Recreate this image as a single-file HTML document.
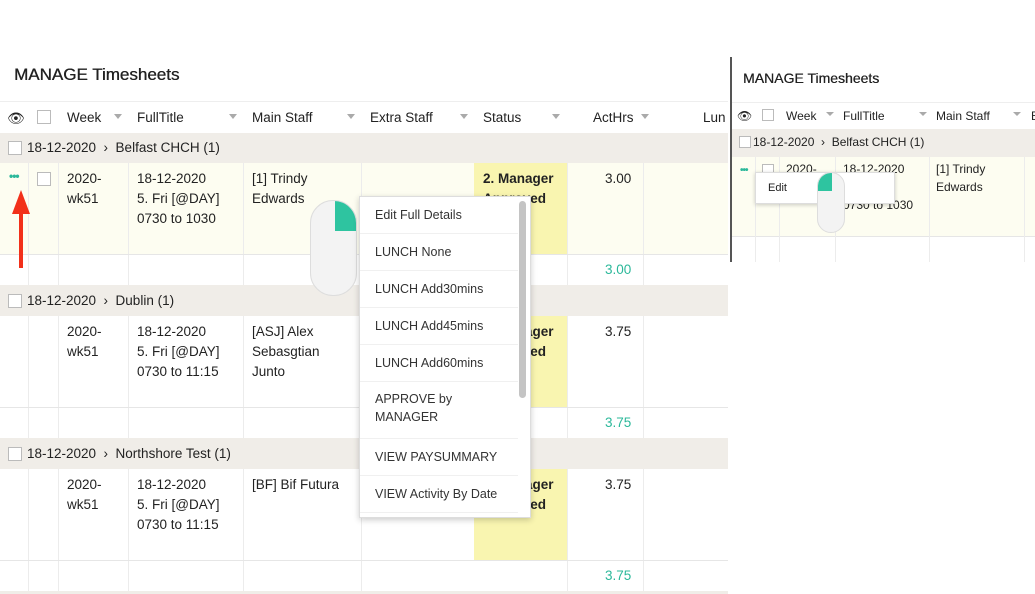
<!DOCTYPE html>
<html><head><meta charset="utf-8"><style>
body{margin:0;width:1035px;height:594px;overflow:hidden;background:#fff;font-family:"Liberation Sans",sans-serif;color:#222;position:relative}
div{position:absolute;box-sizing:border-box}
.t{font-size:13.5px;line-height:20px;white-space:nowrap}
.vl{width:1px;background:#ececec}
.hl{height:1px;background:#e6e6e6}
.cb{width:14px;height:14px;border:1px solid #bbb;background:#fff}
.arr{width:0;height:0;border-left:4px solid transparent;border-right:4px solid transparent;border-top:5px solid #aaa}
.grp{background:#f0ede8}
.mi{left:0;width:158px;height:37px;border-bottom:1px solid #f0f0f0;padding-left:15px;font-size:12.5px;line-height:18px;color:#333}
.ttl{font-size:17px;text-shadow:0.4px 0 0 #222}
</style></head><body>
<div class="t ttl" style="left:14px;top:65px;">MANAGE Timesheets</div>
<div class="hl" style="left:0;top:101px;width:728px;background:#eee"></div>
<!-- header -->
<div class="t" style="left:7px;top:108px;font-size:14px">👁</div>
<div class="cb" style="left:37px;top:110px"></div>
<div class="t" style="left:67px;top:108px">Week</div><div class="arr" style="left:114px;top:114px"></div>
<div class="t" style="left:137px;top:108px">FullTitle</div><div class="arr" style="left:229px;top:114px"></div>
<div class="t" style="left:252px;top:108px">Main Staff</div><div class="arr" style="left:347px;top:114px"></div>
<div class="t" style="left:370px;top:108px">Extra Staff</div><div class="arr" style="left:460px;top:114px"></div>
<div class="t" style="left:483px;top:108px">Status</div><div class="arr" style="left:552px;top:114px"></div>
<div class="t" style="left:593px;top:108px">ActHrs</div><div class="arr" style="left:641px;top:114px"></div>
<div class="t" style="left:703px;top:108px">Lun</div>
<!-- groups -->
<div class="grp" style="left:0;top:133px;width:728px;height:30px"></div>
<div class="grp" style="left:0;top:285px;width:728px;height:31px"></div>
<div class="grp" style="left:0;top:438px;width:728px;height:31px"></div>
<div class="grp" style="left:0;top:591px;width:728px;height:3px"></div>
<div style="left:0;top:163px;width:728px;height:91px;background:#fdfdf1"></div>
<div style="left:474px;top:163px;width:93px;height:91px;background:#f9f5b0"></div>
<div style="left:474px;top:316px;width:93px;height:91px;background:#f9f5b0"></div>
<div style="left:474px;top:469px;width:93px;height:91px;background:#f9f5b0"></div>
<!-- vertical lines in data rows -->
<div class="vl" style="left:28px;top:163px;height:122px"></div><div class="vl" style="left:58px;top:163px;height:122px"></div><div class="vl" style="left:128px;top:163px;height:122px"></div><div class="vl" style="left:243px;top:163px;height:122px"></div><div class="vl" style="left:361px;top:163px;height:122px"></div><div class="vl" style="left:567px;top:163px;height:122px"></div><div class="vl" style="left:643px;top:163px;height:122px"></div>
<div class="vl" style="left:28px;top:316px;height:122px"></div><div class="vl" style="left:58px;top:316px;height:122px"></div><div class="vl" style="left:128px;top:316px;height:122px"></div><div class="vl" style="left:243px;top:316px;height:122px"></div><div class="vl" style="left:361px;top:316px;height:122px"></div><div class="vl" style="left:567px;top:316px;height:122px"></div><div class="vl" style="left:643px;top:316px;height:122px"></div>
<div class="vl" style="left:28px;top:469px;height:122px"></div><div class="vl" style="left:58px;top:469px;height:122px"></div><div class="vl" style="left:128px;top:469px;height:122px"></div><div class="vl" style="left:243px;top:469px;height:122px"></div><div class="vl" style="left:361px;top:469px;height:122px"></div><div class="vl" style="left:567px;top:469px;height:122px"></div><div class="vl" style="left:643px;top:469px;height:122px"></div>
<div class="hl" style="left:0;top:254px;width:728px"></div>
<div class="hl" style="left:0;top:407px;width:728px"></div>
<div class="hl" style="left:0;top:560px;width:728px"></div>
<!-- group labels -->
<div class="cb" style="left:8px;top:141px"></div><div class="t" style="left:27px;top:138px">18-12-2020 &nbsp;›&nbsp; Belfast CHCH (1)</div>
<div class="cb" style="left:8px;top:294px"></div><div class="t" style="left:27px;top:291px">18-12-2020 &nbsp;›&nbsp; Dublin (1)</div>
<div class="cb" style="left:8px;top:447px"></div><div class="t" style="left:27px;top:444px">18-12-2020 &nbsp;›&nbsp; Northshore Test (1)</div>
<!-- row 1 -->
<div class="t" style="left:9px;top:166px;color:#2bb89a;font-weight:bold;font-size:12px;letter-spacing:-1px">•••</div>
<div style="left:12px;top:190px;width:0;height:0;border-left:9px solid transparent;border-right:9px solid transparent;border-bottom:24px solid #f2301a"></div>
<div style="left:19px;top:212px;width:4px;height:56px;background:#f2301a"></div>
<div class="cb" style="left:37px;top:172px"></div>
<div class="t" style="left:67px;top:169px">2020-<br>wk51</div>
<div class="t" style="left:137px;top:169px">18-12-2020<br>5. Fri [@DAY]<br>0730 to 1030</div>
<div class="t" style="left:252px;top:169px">[1] Trindy<br>Edwards</div>
<div class="t" style="left:483px;top:169px;font-weight:bold">2. Manager<br>Approved</div>
<div class="t" style="left:605px;top:169px">3.00</div>
<div class="t" style="left:605px;top:260px;color:#2bb89a">3.00</div>
<!-- row 2 -->
<div class="t" style="left:67px;top:322px">2020-<br>wk51</div>
<div class="t" style="left:137px;top:322px">18-12-2020<br>5. Fri [@DAY]<br>0730 to 11:15</div>
<div class="t" style="left:252px;top:322px">[ASJ] Alex<br>Sebasgtian<br>Junto</div>
<div class="t" style="left:483px;top:322px;font-weight:bold">2. Manager<br>Approved</div>
<div class="t" style="left:605px;top:322px">3.75</div>
<div class="t" style="left:605px;top:413px;color:#2bb89a">3.75</div>
<!-- row 3 -->
<div class="t" style="left:67px;top:475px">2020-<br>wk51</div>
<div class="t" style="left:137px;top:475px">18-12-2020<br>5. Fri [@DAY]<br>0730 to 11:15</div>
<div class="t" style="left:252px;top:475px">[BF] Bif Futura</div>
<div class="t" style="left:483px;top:475px;font-weight:bold">2. Manager<br>Approved</div>
<div class="t" style="left:605px;top:475px">3.75</div>
<div class="t" style="left:605px;top:566px;color:#2bb89a">3.75</div>
<!-- mouse -->
<div style="left:310px;top:200px;width:47px;height:96px;border-radius:23px;background:#f3f3f3;border:1px solid #ddd;overflow:hidden"><div style="left:24px;top:0;width:23px;height:30px;background:#2ec4a0;border-radius:0 20px 0 0"></div></div>
<!-- menu -->
<div style="left:359px;top:196px;width:172px;height:322px;background:#fff;border:1px solid #ddd;box-shadow:0 2px 6px rgba(0,0,0,.2);overflow:hidden">
<div class="mi" style="top:0;padding-top:9px">Edit Full Details</div>
<div class="mi" style="top:37px;padding-top:9px">LUNCH None</div>
<div class="mi" style="top:74px;padding-top:9px">LUNCH Add30mins</div>
<div class="mi" style="top:111px;padding-top:9px">LUNCH Add45mins</div>
<div class="mi" style="top:148px;padding-top:9px">LUNCH Add60mins</div>
<div class="mi" style="top:185px;height:57px;padding-top:8px">APPROVE by<br>MANAGER</div>
<div class="mi" style="top:242px;padding-top:9px">VIEW PAYSUMMARY</div>
<div class="mi" style="top:279px;padding-top:9px">VIEW Activity By Date</div>
<div style="left:159px;top:4px;width:7px;height:197px;background:#c4c4c4;border-radius:4px"></div>
</div>
<!-- right panel -->
<div style="left:730px;top:57px;width:2px;height:205px;background:#555"></div>
<div class="t" style="left:743px;top:68px;font-size:14px;text-shadow:0.3px 0 0 #222">MANAGE Timesheets</div>
<div class="hl" style="left:732px;top:102px;width:303px;background:#eee"></div>
<div class="t" style="left:737px;top:106px;font-size:12px">👁</div>
<div class="cb" style="left:762px;top:109px;width:12px;height:12px"></div>
<div class="t" style="left:786px;top:106px;font-size:12px">Week</div><div class="arr" style="left:826px;top:112px;border-top-width:4px"></div>
<div class="t" style="left:843px;top:106px;font-size:12px">FullTitle</div><div class="arr" style="left:919px;top:112px;border-top-width:4px"></div>
<div class="t" style="left:936px;top:106px;font-size:12px">Main Staff</div><div class="arr" style="left:1013px;top:112px;border-top-width:4px"></div>
<div class="t" style="left:1031px;top:106px;font-size:12px">E</div>
<div class="grp" style="left:732px;top:129px;width:303px;height:28px"></div>
<div class="cb" style="left:739px;top:136px;width:12px;height:12px"></div>
<div class="t" style="left:753px;top:132px;font-size:12px">18-12-2020 &nbsp;›&nbsp; Belfast CHCH (1)</div>
<div style="left:732px;top:157px;width:303px;height:79px;background:#fdfdf1"></div>
<div class="hl" style="left:732px;top:236px;width:303px"></div>
<div class="vl" style="left:755px;top:157px;height:105px"></div><div class="vl" style="left:779px;top:157px;height:105px"></div><div class="vl" style="left:835px;top:157px;height:105px"></div><div class="vl" style="left:929px;top:157px;height:105px"></div><div class="vl" style="left:1024px;top:157px;height:105px"></div>
<div class="t" style="left:740px;top:161px;color:#2bb89a;font-size:10px;font-weight:bold;letter-spacing:-1px">•••</div>
<div class="cb" style="left:762px;top:164px;width:12px;height:12px"></div>
<div class="t" style="left:786px;top:160px;font-size:12px;line-height:18px">2020-</div>
<div class="t" style="left:843px;top:160px;font-size:12px;line-height:18px">18-12-2020<br>[@DAY]<br>0730 to 1030</div>
<div class="t" style="left:936px;top:160px;font-size:12px;line-height:18px">[1] Trindy<br>Edwards</div>
<div style="left:755px;top:172px;width:140px;height:32px;background:#fff;border:1px solid #ddd;box-shadow:0 1px 4px rgba(0,0,0,.2)"></div>
<div class="t" style="left:768px;top:178px;font-size:11px">Edit</div>
<div style="left:817px;top:172px;width:28px;height:61px;border-radius:14px;background:#f3f3f3;border:1px solid #ddd;overflow:hidden"><div style="left:0;top:0;width:14px;height:18px;background:#2ec4a0;border-radius:12px 0 0 0"></div></div>
</body></html>
